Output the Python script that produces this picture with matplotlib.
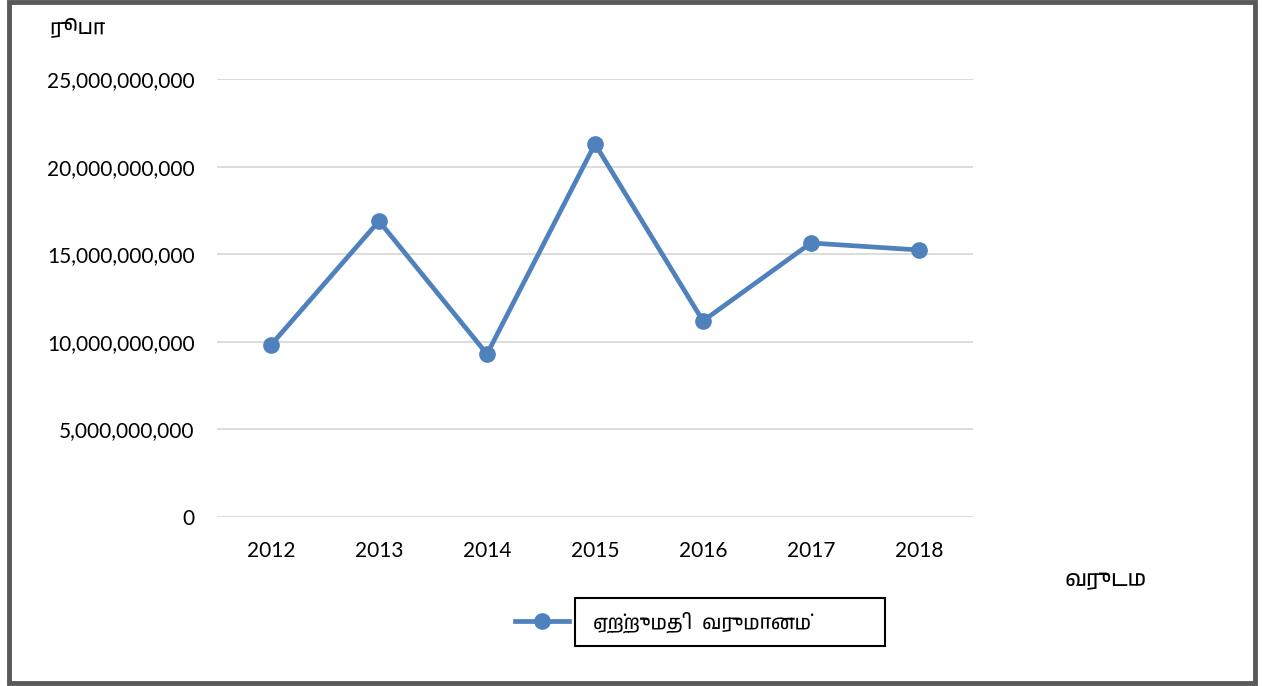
import matplotlib
matplotlib.use("Agg")
import matplotlib.pyplot as plt
import matplotlib.font_manager as fm
from matplotlib.patches import Rectangle
from matplotlib.ticker import FuncFormatter

years = ["2012", "2013", "2014", "2015", "2016", "2017", "2018"]
income = [9.82e9, 16.89e9, 9.30e9, 21.29e9, 11.19e9, 15.64e9, 15.24e9]
series_name = "ஏற்றுமதி  வருமானம்"
y_label = "ரூபா"
x_label = "வருடம"

# look for any installed font that covers Tamil
tamil = [f.name for f in fm.fontManager.ttflist if "Tamil" in f.name]
families = ["Lato"] + tamil[:1] + ["DejaVu Sans"]
plt.rcParams["font.family"] = families

fig = plt.figure(figsize=(12.63, 6.86), dpi=100)
ax = fig.add_axes([217 / 1263, 1 - 517 / 686, 756 / 1263, 438 / 686])

x = range(len(years))
ax.plot(x, income, color="#4F81BD", linewidth=3.4, marker="o", markersize=11,
        label=series_name)

ax.set_xlim(-0.5, len(years) - 0.5)
ax.set_ylim(0, 25e9)
ax.set_yticks([0, 5e9, 10e9, 15e9, 20e9, 25e9])
ax.yaxis.set_major_formatter(FuncFormatter(lambda v, p: f"{int(v):,}"))
ax.set_xticks(list(x))
ax.set_xticklabels(years)
ax.grid(axis="y", color="#D9D9D9", linewidth=1.3)
ax.set_axisbelow(True)
ax.tick_params(length=0, labelsize=15)
ax.tick_params(axis="x", pad=17)
ax.tick_params(axis="y", pad=16)
for s in ax.spines.values():
    s.set_visible(False)

fig.text(50 / 1263, 1 - 27 / 686, y_label, fontsize=15, va="center")
fig.text(1065 / 1263, 1 - 580 / 686, x_label, fontsize=16, va="center")

leg = ax.legend(loc="center left", bbox_to_anchor=(515 / 1263, 1 - 622 / 686),
                bbox_transform=fig.transFigure, frameon=False, fontsize=14,
                handlelength=2.8, handletextpad=1.2, borderpad=0, borderaxespad=0)
fig.add_artist(Rectangle((575 / 1263, 1 - 646 / 686), 310 / 1263, 48 / 686,
                         transform=fig.transFigure, fill=False,
                         edgecolor="black", linewidth=1.5))

# outer frame of the chart
fig.add_artist(Rectangle((9 / 1263, 3 / 686), 1246 / 1263, 681 / 686,
                         transform=fig.transFigure, fill=False,
                         edgecolor="#595959", linewidth=3.5))

fig.savefig("out.png", dpi=100)
